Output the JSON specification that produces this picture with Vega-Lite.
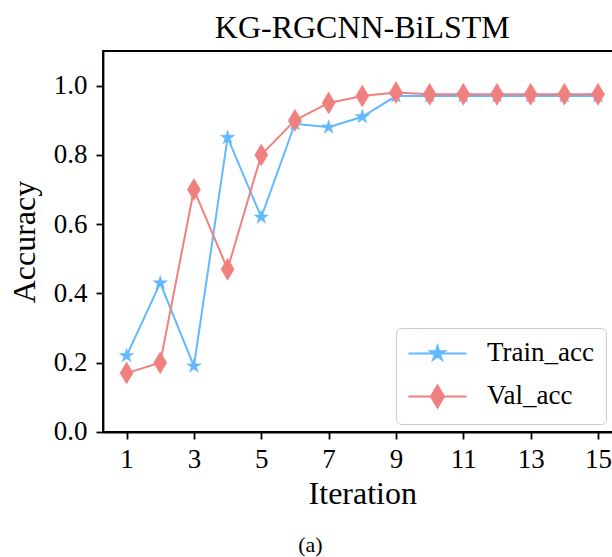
{
  "$schema": "https://vega.github.io/schema/vega-lite/v6.json",
  "autosize": {"type": "none"},
  "padding": {"left": 103, "top": 51, "right": 0, "bottom": 125},
  "width": 518.6,
  "height": 381,
  "title": {"text": "KG-RGCNN-BiLSTM", "fontSize": 32, "fontWeight": "normal", "font": "Liberation Serif", "color": "black", "anchor": "middle", "offset": 6},
  "config": {
    "font": "Liberation Serif",
    "view": {"stroke": "black", "strokeWidth": 1.8},
    "axis": {"domainColor": "black", "domainWidth": 1.8, "tickColor": "black", "tickWidth": 1.8, "tickSize": 7, "grid": false, "labelFont": "Liberation Serif", "labelFontSize": 27, "labelColor": "black", "titleFont": "Liberation Serif", "titleFontSize": 32, "titleFontWeight": "normal", "titleColor": "black"}
  },
  "datasets": {
    "acc": [
      {"iteration": 1, "acc": 0.22, "series": "Train_acc"},
      {"iteration": 2, "acc": 0.43, "series": "Train_acc"},
      {"iteration": 3, "acc": 0.19, "series": "Train_acc"},
      {"iteration": 4, "acc": 0.85, "series": "Train_acc"},
      {"iteration": 5, "acc": 0.62, "series": "Train_acc"},
      {"iteration": 6, "acc": 0.89, "series": "Train_acc"},
      {"iteration": 7, "acc": 0.88, "series": "Train_acc"},
      {"iteration": 8, "acc": 0.91, "series": "Train_acc"},
      {"iteration": 9, "acc": 0.97, "series": "Train_acc"},
      {"iteration": 10, "acc": 0.97, "series": "Train_acc"},
      {"iteration": 11, "acc": 0.97, "series": "Train_acc"},
      {"iteration": 12, "acc": 0.97, "series": "Train_acc"},
      {"iteration": 13, "acc": 0.97, "series": "Train_acc"},
      {"iteration": 14, "acc": 0.97, "series": "Train_acc"},
      {"iteration": 15, "acc": 0.97, "series": "Train_acc"},
      {"iteration": 1, "acc": 0.17, "series": "Val_acc"},
      {"iteration": 2, "acc": 0.20, "series": "Val_acc"},
      {"iteration": 3, "acc": 0.70, "series": "Val_acc"},
      {"iteration": 4, "acc": 0.47, "series": "Val_acc"},
      {"iteration": 5, "acc": 0.80, "series": "Val_acc"},
      {"iteration": 6, "acc": 0.90, "series": "Val_acc"},
      {"iteration": 7, "acc": 0.95, "series": "Val_acc"},
      {"iteration": 8, "acc": 0.97, "series": "Val_acc"},
      {"iteration": 9, "acc": 0.98, "series": "Val_acc"},
      {"iteration": 10, "acc": 0.975, "series": "Val_acc"},
      {"iteration": 11, "acc": 0.975, "series": "Val_acc"},
      {"iteration": 12, "acc": 0.975, "series": "Val_acc"},
      {"iteration": 13, "acc": 0.975, "series": "Val_acc"},
      {"iteration": 14, "acc": 0.975, "series": "Val_acc"},
      {"iteration": 15, "acc": 0.975, "series": "Val_acc"}
    ],
    "caption": [{"label": "(a)"}]
  },
  "resolve": {"scale": {"stroke": "independent", "fill": "independent", "shape": "independent"}},
  "layer": [
    {"data": {"name": "acc"}, "transform": [{"filter": "datum.series === 'Train_acc'"}], "mark": {"type": "line", "strokeWidth": 2},
      "encoding": {
        "x": {"field": "iteration", "type": "quantitative", "scale": {"domain": [0.3, 15.7], "nice": false, "zero": false},
          "axis": {"values": [1, 3, 5, 7, 9, 11, 13, 15], "labelPadding": 8, "title": "Iteration", "titlePadding": 6, "labelFlush": false}},
        "y": {"field": "acc", "type": "quantitative", "scale": {"domain": [0, 1.1], "nice": false},
          "axis": {"values": [0, 0.2, 0.4, 0.6, 0.8, 1.0], "format": ".1f", "labelPadding": 9, "title": "Accuracy", "titlePadding": 12, "labelFlush": false}},
        "stroke": {"field": "series", "type": "nominal", "scale": {"domain": ["Train_acc", "Val_acc"], "range": ["#63B8FF", "#F08080"]}, "legend": null}}},
    {"data": {"name": "acc"}, "transform": [{"filter": "datum.series === 'Train_acc'"}], "mark": {"type": "point", "filled": false, "opacity": 1, "size": 484, "strokeWidth": 0.5},
      "encoding": {
        "x": {"field": "iteration", "type": "quantitative"},
        "y": {"field": "acc", "type": "quantitative"},
        "stroke": {"field": "series", "type": "nominal", "scale": {"domain": ["Train_acc", "Val_acc"], "range": ["#63B8FF", "#F08080"]}, "legend": null},
        "fill": {"field": "series", "type": "nominal", "scale": {"domain": ["Train_acc", "Val_acc"], "range": ["#63B8FF", "#F08080"]}, "legend": null},
        "shape": {"field": "series", "type": "nominal", "scale": {"domain": ["Train_acc", "Val_acc"], "range": ["M0,-0.68L0.153,-0.21L0.647,-0.21L0.247,0.08L0.4,0.55L0,0.26L-0.4,0.55L-0.247,0.08L-0.647,-0.21L-0.153,-0.21Z", "M0,-1L0.6,0L0,1L-0.6,0Z"]}, "legend": null}}},
    {"data": {"name": "acc"}, "transform": [{"filter": "datum.series === 'Val_acc'"}], "mark": {"type": "line", "strokeWidth": 2},
      "encoding": {
        "x": {"field": "iteration", "type": "quantitative"},
        "y": {"field": "acc", "type": "quantitative"},
        "stroke": {"field": "series", "type": "nominal", "scale": {"domain": ["Train_acc", "Val_acc"], "range": ["#63B8FF", "#F08080"]}, "legend": null}}},
    {"data": {"name": "acc"}, "transform": [{"filter": "datum.series === 'Val_acc'"}], "mark": {"type": "point", "filled": false, "opacity": 1, "size": 484, "strokeWidth": 0.5},
      "encoding": {
        "x": {"field": "iteration", "type": "quantitative"},
        "y": {"field": "acc", "type": "quantitative"},
        "stroke": {"field": "series", "type": "nominal", "scale": {"domain": ["Train_acc", "Val_acc"], "range": ["#63B8FF", "#F08080"]}, "legend": null},
        "fill": {"field": "series", "type": "nominal", "scale": {"domain": ["Train_acc", "Val_acc"], "range": ["#63B8FF", "#F08080"]}, "legend": null},
        "shape": {"field": "series", "type": "nominal", "scale": {"domain": ["Train_acc", "Val_acc"], "range": ["M0,-0.68L0.153,-0.21L0.647,-0.21L0.247,0.08L0.4,0.55L0,0.26L-0.4,0.55L-0.247,0.08L-0.647,-0.21L-0.153,-0.21Z", "M0,-1L0.6,0L0,1L-0.6,0Z"]}, "legend": null}}},
    {"data": {"name": "acc"}, "transform": [{"filter": "datum.iteration < 0"}], "mark": {"type": "point", "filled": false, "opacity": 1, "size": 484, "strokeWidth": 2},
      "encoding": {
        "x": {"field": "iteration", "type": "quantitative"},
        "y": {"field": "acc", "type": "quantitative"},
        "stroke": {"field": "series", "type": "nominal", "scale": {"domain": ["Train_acc", "Val_acc"], "range": ["#63B8FF", "#F08080"]},
          "legend": {"title": null, "orient": "none", "legendX": 293, "legendY": 277, "padding": 12, "strokeColor": "#cccccc", "fillColor": "white", "cornerRadius": 5,
            "labelFontSize": 27, "labelFont": "Liberation Serif", "labelColor": "black", "symbolSize": 484, "symbolOffset": 16, "labelOffset": 36, "rowPadding": 14, "symbolStrokeWidth": 2, "symbolOpacity": 1}},
        "fill": {"field": "series", "type": "nominal", "scale": {"domain": ["Train_acc", "Val_acc"], "range": ["#63B8FF", "#F08080"]},
          "legend": {"title": null, "orient": "none", "legendX": 293, "legendY": 277, "padding": 12, "strokeColor": "#cccccc", "fillColor": "white", "cornerRadius": 5,
            "labelFontSize": 27, "labelFont": "Liberation Serif", "labelColor": "black", "symbolSize": 484, "symbolOffset": 16, "labelOffset": 36, "rowPadding": 14, "symbolStrokeWidth": 2, "symbolOpacity": 1}},
        "shape": {"field": "series", "type": "nominal", "scale": {"domain": ["Train_acc", "Val_acc"], "range": ["M-2.64,0L2.64,0M0,-0.68L0.153,-0.21L0.647,-0.21L0.247,0.08L0.4,0.55L0,0.26L-0.4,0.55L-0.247,0.08L-0.647,-0.21L-0.153,-0.21Z", "M-2.64,0L2.64,0M0,-1L0.6,0L0,1L-0.6,0Z"]},
          "legend": {"title": null, "orient": "none", "legendX": 293, "legendY": 277, "padding": 12, "strokeColor": "#cccccc", "fillColor": "white", "cornerRadius": 5,
            "labelFontSize": 27, "labelFont": "Liberation Serif", "labelColor": "black", "symbolSize": 484, "symbolOffset": 16, "labelOffset": 36, "rowPadding": 14, "symbolStrokeWidth": 2, "symbolOpacity": 1}}}},
    {"data": {"name": "caption"},
      "mark": {"type": "text", "fontSize": 22, "font": "Liberation Serif", "color": "black", "align": "center", "baseline": "middle", "clip": false},
      "encoding": {"x": {"datum": 6.46, "type": "quantitative"}, "y": {"datum": -0.325, "type": "quantitative"}, "text": {"field": "label", "type": "nominal"}}}
  ]
}
